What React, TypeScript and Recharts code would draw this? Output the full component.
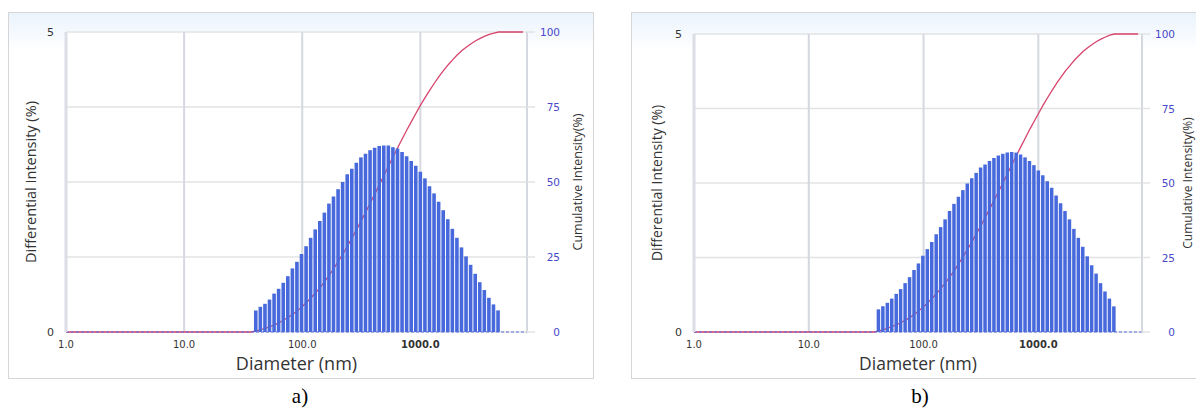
import React from "react"
import { Bar, ComposedChart, Line, XAxis, YAxis, CartesianGrid } from "recharts"

// bin centres (nm), same bins for both samples
const diameters = [
  40.8, 44.6, 48.8, 53.3, 58.3, 63.7, 69.7, 76.2, 83.3, 91.0,
  99.5, 108.8, 118.9, 130.0, 142.1, 155.4, 169.8, 185.7, 203.0, 221.9,
  242.6, 265.2, 289.9, 316.9, 346.4, 378.7, 414.0, 452.6, 494.8, 540.9,
  591.3, 646.4, 706.6, 772.5, 844.5, 923.2, 1009.2, 1103.3, 1206.1, 1318.5,
  1441.4, 1575.7, 1722.6, 1883.1, 2058.6, 2250.5, 2460.2, 2689.5, 2940.1, 3214.1,
  3513.6, 3841.1, 4199.1, 4590.4,
]

const intensityA = [
  0.36, 0.42, 0.47, 0.54, 0.64, 0.72, 0.82, 0.93, 1.06, 1.17,
  1.30, 1.43, 1.57, 1.71, 1.85, 1.99, 2.14, 2.26, 2.38, 2.50,
  2.63, 2.72, 2.82, 2.91, 2.97, 3.03, 3.07, 3.10, 3.11, 3.11,
  3.08, 3.06, 3.00, 2.93, 2.85, 2.77, 2.67, 2.56, 2.43, 2.31,
  2.17, 2.03, 1.88, 1.72, 1.57, 1.41, 1.26, 1.12, 0.97, 0.83,
  0.70, 0.57, 0.46, 0.36,
]
const cumulativeA = [
  0.4, 0.8, 1.2, 1.8, 2.4, 3.1, 4.0, 4.9, 5.9, 7.1,
  8.4, 9.8, 11.4, 13.1, 14.9, 16.9, 19.0, 21.3, 23.7, 26.1,
  28.8, 31.5, 34.3, 37.2, 40.1, 43.2, 46.2, 49.3, 52.4, 55.5,
  58.6, 61.6, 64.6, 67.5, 70.3, 73.1, 75.8, 78.3, 80.7, 83.0,
  85.2, 87.2, 89.1, 90.8, 92.4, 93.8, 95.0, 96.1, 97.1, 97.9,
  98.6, 99.2, 99.6, 100,
]

const intensityB = [
  0.38, 0.43, 0.49, 0.56, 0.64, 0.72, 0.82, 0.92, 1.04, 1.15,
  1.28, 1.39, 1.51, 1.64, 1.76, 1.89, 2.03, 2.15, 2.27, 2.38,
  2.49, 2.58, 2.67, 2.76, 2.81, 2.87, 2.92, 2.96, 2.99, 3.01,
  3.02, 3.01, 2.98, 2.93, 2.87, 2.80, 2.71, 2.63, 2.53, 2.42,
  2.29, 2.16, 2.03, 1.89, 1.73, 1.58, 1.43, 1.27, 1.12, 0.98,
  0.82, 0.68, 0.56, 0.43,
]
const cumulativeB = [
  0.4, 0.8, 1.3, 1.9, 2.5, 3.2, 4.0, 4.9, 6.0, 7.1,
  8.4, 9.8, 11.3, 12.9, 14.7, 16.6, 18.6, 20.7, 23.0, 25.4,
  27.8, 30.4, 33.1, 35.8, 38.6, 41.5, 44.4, 47.3, 50.3, 53.3,
  56.3, 59.3, 62.3, 65.2, 68.1, 70.8, 73.5, 76.2, 78.7, 81.1,
  83.4, 85.5, 87.6, 89.4, 91.2, 92.7, 94.2, 95.4, 96.5, 97.5,
  98.3, 99.0, 99.6, 100,
]

// cumulative curve: flat at 0 before the first bin, flat at 100 after the last
const leadInDiameters = [1.0, 37.0]
const tailDiameter = 7400

const xTicks = [1, 10, 100, 1000]
const leftTicks = [0, 5]
const rightTicks = [0, 25, 50, 75, 100]

const buildRows = (diff: number[], cum: number[]) => [
  ...leadInDiameters.map((d) => ({ d, cum: 0 })),
  ...diameters.map((d, i) => ({ d, diff: diff[i], cum: cum[i] })),
  { d: tailDiameter, cum: 100 },
]

const SANS = "'Open Sans', sans-serif"
const TICKFONT = "'DejaVu Sans', sans-serif"

function XTick({ x, y, payload }: any) {
  return (
    <text x={x} y={y} dy={8} textAnchor="middle" fontSize={10} fontFamily={TICKFONT}
      fill="#333" fontWeight={payload.value === 1000 ? "bold" : "normal"}>
      {payload.value.toFixed(1)}
    </text>
  )
}

function RightTick({ x, y, payload }: any) {
  return (
    <text x={x + 21} y={y} dy={4} textAnchor="end" fontSize={10.5} fontFamily={TICKFONT} fill="#4848c8">
      {payload.value}
    </text>
  )
}

function vTitle(text: string, cx: number, size: number) {
  return (props: any) => {
    const vb = props.viewBox
    const cy = vb.y + vb.height / 2
    return (
      <text x={cx} y={cy} transform={`rotate(-90 ${cx} ${cy})`} textAnchor="middle"
        dominantBaseline="central" fontSize={size} fontFamily={SANS} fill="#333">
        {text}
      </text>
    )
  }
}

type PanelProps = {
  diff: number[]
  cum: number[]
  left: number
  top: number
  rightWidth: number
  barSize: number
  leftTitleX: number
  rightTitleX: number
  titleSize: number
  xTitleSize: number
  rightTitleSize: number
}

function Panel(p: PanelProps) {
  const rows = buildRows(p.diff, p.cum)
  return (
    <div style={{ position: "absolute", left: p.left, top: 0 }}>
      <ComposedChart width={600} height={380} data={rows}
        margin={{ top: p.top, right: 0, bottom: 8, left: 0 }}>
        <CartesianGrid yAxisId="right" vertical={false} stroke="#e3e3e3" strokeWidth={1.5} fill="#fff" />
        <CartesianGrid yAxisId="left" horizontal={false} stroke="#d5d8e0" strokeWidth={2} />
        <XAxis dataKey="d" type="number" scale="log" domain={[1, 8000]} allowDataOverflow
          ticks={xTicks} tickLine={false} tickSize={0} tickMargin={8} tick={XTick}
          axisLine={{ stroke: "#5a6ee0", strokeDasharray: "3 2" }} height={40}
          label={{ value: "Diameter (nm)", position: "insideBottom", offset: 2,
            style: { fontSize: p.xTitleSize, fontFamily: SANS, fill: "#333" } }} />
        <YAxis yAxisId="left" orientation="left" domain={[0, 5]} ticks={leftTicks} width={66}
          axisLine={{ stroke: "#dcdde6", strokeWidth: 3 }} tickLine={false} tickSize={0} tickMargin={12}
          tick={{ fill: "#333", fontSize: 11, fontFamily: TICKFONT }}
          label={vTitle("Differential Intensity (%)", p.leftTitleX, p.titleSize)} />
        <YAxis yAxisId="right" orientation="right" domain={[0, 100]} ticks={rightTicks} width={p.rightWidth}
          axisLine={{ stroke: "#d5d8e0", strokeWidth: 2 }} tickLine={{ stroke: "#e3e3e3", strokeWidth: 1.5 }}
          tickSize={8} tickMargin={4} tick={RightTick}
          label={vTitle("Cumulative Intensity(%)", p.rightTitleX, p.rightTitleSize)} />
        <Line yAxisId="right" dataKey="cum" type="linear" stroke="#d6446c" strokeWidth={1.3}
          dot={false} isAnimationActive={false} zIndex={250} />
        <Bar yAxisId="left" dataKey="diff" fill="#4769dc" barSize={p.barSize} isAnimationActive={false} />
      </ComposedChart>
    </div>
  )
}

const frame = (left: number, width: number): React.CSSProperties => ({
  position: "absolute", left, top: 12, width, height: 367, boxSizing: "border-box",
  border: "1px solid #d6d6d6",
  background: "linear-gradient(to bottom, #eaf3fc 0px, #ffffff 38px)",
})

const caption = (cx: number): React.CSSProperties => ({
  position: "absolute", left: cx - 30, width: 60, top: 383, textAlign: "center",
  fontFamily: "'Liberation Serif', serif", fontSize: 21, lineHeight: "26px", color: "#000",
})

export default function App() {
  return (
    <div style={{ position: "absolute", left: 0, top: 0, width: 1196, height: 408, overflow: "hidden", background: "#fff" }}>
      <div style={frame(8, 586)} />
      <div style={frame(631, 600)} />
      <Panel diff={intensityA} cum={cumulativeA} left={0} top={32} rightWidth={73} barSize={3.6}
        leftTitleX={30} rightTitleX={577} titleSize={14.5} xTitleSize={18} rightTitleSize={12.5} />
      <Panel diff={intensityB} cum={cumulativeB} left={628} top={34} rightWidth={86} barSize={3.5}
        leftTitleX={28} rightTitleX={559} titleSize={14} xTitleSize={17.5} rightTitleSize={12} />
      <div style={caption(300)}>a)</div>
      <div style={caption(920)}>b)</div>
    </div>
  )
}
